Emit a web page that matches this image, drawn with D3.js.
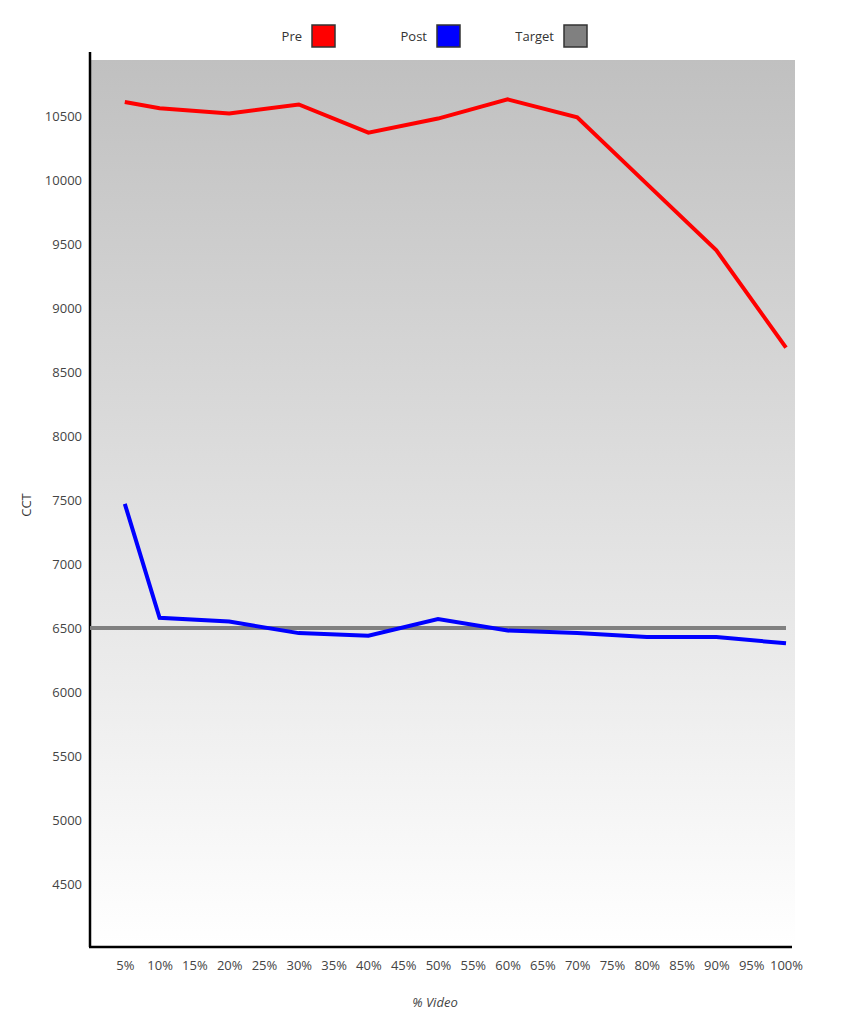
<!DOCTYPE html>
<html><head><meta charset="utf-8">
<script src="https://cdn.jsdelivr.net/npm/d3@7"></script>
<style>body{margin:0;background:#fff;font-family:"Open Sans",sans-serif;}</style>
</head><body><svg id="c" width="851" height="1024"></svg>
<script>
const pcts = [5,10,20,30,40,50,60,70,80,90,100];
const pre = [10610,10560,10520,10590,10370,10480,10630,10490,9970,9450,8690];
const post = [7470,6580,6550,6460,6440,6570,6480,6460,6430,6430,6380];
const target = 6500;
const xTicks = d3.range(5,101,5);
const yTicks = d3.range(4500,10501,500);
const legend = [{name:"Pre",color:"#ff0000"},{name:"Post",color:"#0000ff"},{name:"Target",color:"#808080"}];

const svg = d3.select("#c");
const x = d3.scaleLinear().domain([0,100]).range([90,786]);
const y = d3.scaleLinear().domain([4500,10500]).range([884,116]);

const grad = svg.append("defs").append("linearGradient").attr("id","bg").attr("x1",0).attr("y1",0).attr("x2",0).attr("y2",1);
grad.append("stop").attr("offset","0%").attr("stop-color","#c0c0c0");
grad.append("stop").attr("offset","100%").attr("stop-color","#ffffff");
svg.append("rect").attr("x",90).attr("y",60).attr("width",705).attr("height",887).attr("fill","url(#bg)");

// axes
const ya = svg.append("g").attr("transform","translate(90,0)")
  .call(d3.axisLeft(y).tickValues(yTicks).tickSize(0).tickPadding(8).tickFormat(d3.format("d")));
const xa = svg.append("g").attr("transform","translate(0,947)")
  .call(d3.axisBottom(x).tickValues(xTicks).tickSize(0).tickPadding(14).tickFormat(d => d + "%"));
[ya, xa].forEach(a => {
  a.select(".domain").attr("stroke","#000").attr("stroke-width",2.5);
  a.selectAll("text").attr("font-size",13).attr("fill","#444").attr("font-family","Open Sans");
});
ya.select(".domain").attr("d","M0,52V947");
xa.select(".domain").attr("d","M89,0H792");

svg.append("text").attr("transform","translate(31,505) rotate(-90)").attr("text-anchor","middle")
  .attr("font-size",13).attr("fill","#333").text("CCT");
svg.append("text").attr("x",435).attr("y",1007).attr("text-anchor","middle").attr("font-style","italic")
  .attr("font-size",13).attr("fill","#444").text("% Video");

svg.append("line").attr("x1",x(0)).attr("x2",x(100)).attr("y1",y(target)).attr("y2",y(target))
  .attr("stroke","#808080").attr("stroke-width",4);

const line = d3.line().x((d,i) => x(pcts[i])).y(d => y(d));
[[pre,"#ff0000"],[post,"#0000ff"]].forEach(([s,c]) => {
  svg.append("path").datum(s).attr("d",line).attr("fill","none").attr("stroke",c).attr("stroke-width",4);
});

const lg = svg.selectAll(".lg").data(legend).join("g").attr("transform",(d,i) => `translate(${[312,437,564][i]},25)`);
lg.append("text").attr("x",-10).attr("y",16).attr("text-anchor","end").attr("font-size",13).attr("fill","#333").text(d => d.name);
lg.append("rect").attr("width",23).attr("height",22).attr("fill",d => d.color).attr("stroke","#333").attr("stroke-width",1.5);
</script></body></html>
